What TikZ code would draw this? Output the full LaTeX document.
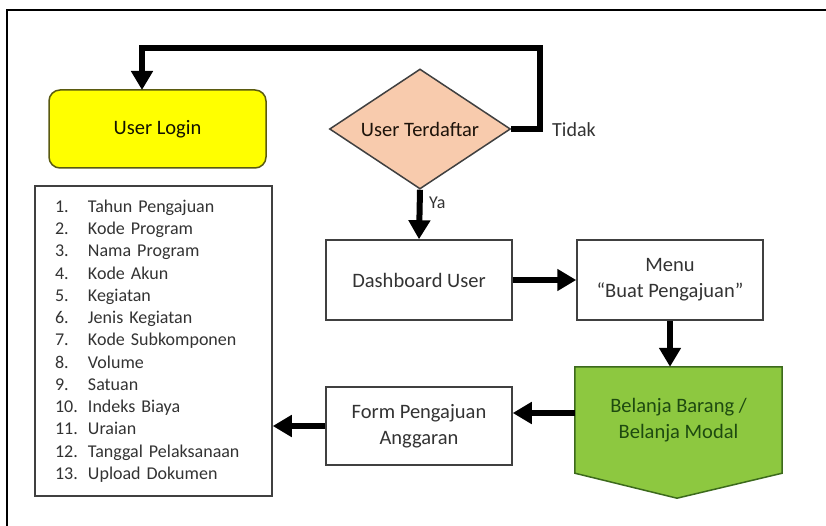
\documentclass[tikz,border=0pt]{standalone}
\usepackage{fontspec}
\setmainfont{Carlito}
\usetikzlibrary{arrows.meta,shapes.geometric,backgrounds,calc}
\definecolor{ylw}{HTML}{FFFF00}
\definecolor{ylwline}{HTML}{5A5A10}
\definecolor{peach}{HTML}{F8CBAD}
\definecolor{grn}{HTML}{8DC840}
\definecolor{grnline}{HTML}{3C6A1C}
\definecolor{grntext}{HTML}{1E4A10}
\definecolor{boxline}{HTML}{404040}
\definecolor{txt}{HTML}{333333}
\begin{document}
\begin{tikzpicture}[x=1pt,y=-1pt,
  lbl/.style={font=\fontsize{20.5}{26}\selectfont, text=txt, align=center},
  whitebox/.style={lbl, draw=boxline, line width=1.5pt, fill=white, minimum width=186pt, minimum height=80pt, inner sep=0pt},
  flow/.style={draw=black, line width=6pt, line join=miter, -{Triangle[length=19pt,width=21pt]}}
]
\useasboundingbox (0,0) rectangle (826,526);
% outer frame
\draw[line width=1.5pt, black] (7,526) -- (7,10) -- (826,10);

% nodes
\node[lbl, draw=ylwline, line width=1.5pt, fill=ylw, rounded corners=11pt, minimum width=217pt, minimum height=78pt, inner sep=0pt, text=black!80!ylwline] (login) at (157.5,129) {User Login};
\node[lbl, diamond, aspect=1.508, draw=boxline, line width=1.5pt, fill=peach, minimum width=181pt, minimum height=120pt, inner sep=0pt, text=black!85!brown] (dia) at (420,129) {User Terdaftar};
\node[whitebox] (dash) at (419,280) {Dashboard User};
\node[whitebox] (menu) at (670,280) {Menu\\``Buat Pengajuan''};
\node[whitebox, minimum height=78pt] (form) at (419,426) {Form Pengajuan\\Anggaran};
\node[lbl, text=grntext, minimum width=207pt, minimum height=106pt, inner sep=0pt] (bel) at (678.5,420) {Belanja Barang /\\Belanja Modal};
\begin{scope}[on background layer]
\fill[white] (0,0) rectangle (826,526);
\draw[fill=grn, draw=grnline, line width=1.5pt, line join=miter]
  (bel.north west) -- (bel.north east) -- (bel.south east) -- ($(bel.south)+(-1.5,25)$) -- (bel.south west) -- cycle;
\end{scope}
\node[draw=boxline, line width=1.5pt, fill=white, minimum width=237pt, minimum height=310pt, inner sep=0pt, text width=197pt, align=left, text=txt,
  font=\fontsize{18}{22.25}\selectfont] (list) at (153.5,341) {%
\makebox[33pt][l]{1.}Tahun Pengajuan\\
\makebox[33pt][l]{2.}Kode Program\\
\makebox[33pt][l]{3.}Nama Program\\
\makebox[33pt][l]{4.}Kode Akun\\
\makebox[33pt][l]{5.}Kegiatan\\
\makebox[33pt][l]{6.}Jenis Kegiatan\\
\makebox[33pt][l]{7.}Kode Subkomponen\\
\makebox[33pt][l]{8.}Volume\\
\makebox[33pt][l]{9.}Satuan\\
\makebox[33pt][l]{10.}Indeks Biaya\\
\makebox[33pt][l]{11.}Uraian\\
\makebox[33pt][l]{12.}Tanggal Pelaksanaan\\
\makebox[33pt][l]{13.}Upload Dokumen};

% labels
\node[font=\fontsize{18}{22}\selectfont, text=txt, anchor=west, inner sep=0pt] (ya) at (429,203) {Ya};
\node[font=\fontsize{20}{24}\selectfont, text=txt, anchor=west, inner sep=0pt] (tidak) at (552,130) {Tidak};

% connectors
\coordinate (c1) at (540,48);
\coordinate (c2) at (142,48);
\coordinate (c3) at (142,90);
\draw[flow] (dia.east) -| (c1) -- (c2) -- (c3);
\draw[flow] (dia.south) -- (dash.north);
\draw[flow] (dash.east) -- (menu.west);
\draw[flow] (menu.south) -- (menu.south |- bel.north);
\coordinate (g1) at ($(bel.west)+(0,-7)$);
\draw[flow] (g1) -- (g1 -| form.east);
\draw[flow] (form.west) -- (form.west -| list.east);
\end{tikzpicture}
\end{document}
